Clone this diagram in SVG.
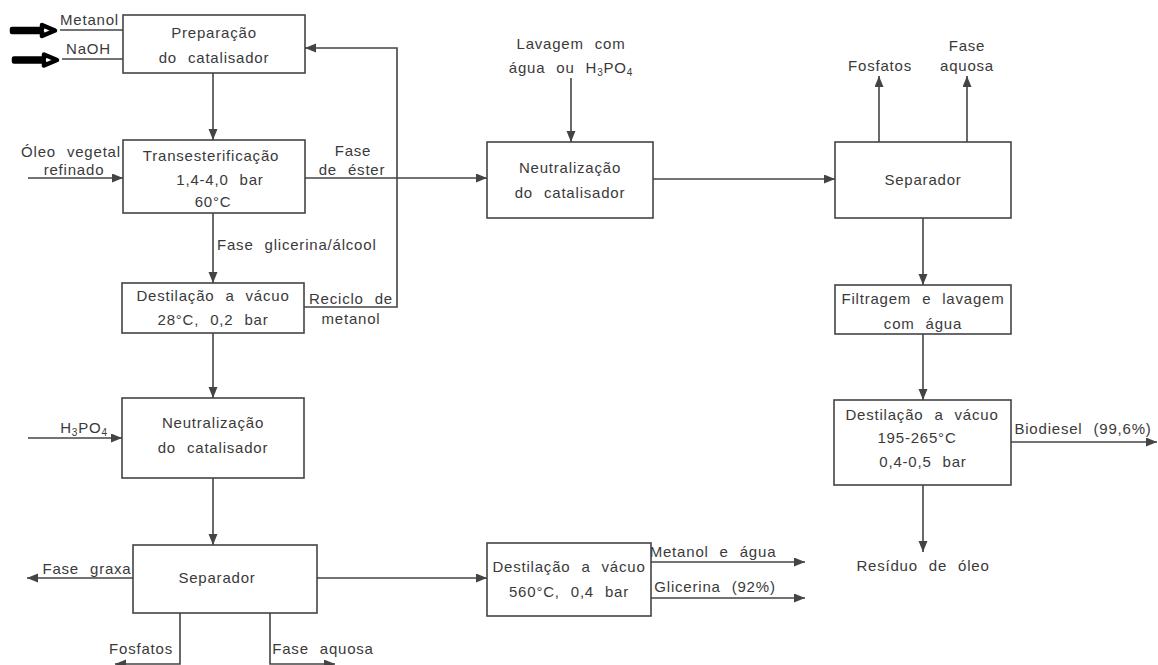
<svg xmlns="http://www.w3.org/2000/svg" width="1158" height="665" viewBox="0 0 1158 665">
<defs>
<marker id="ah" markerUnits="userSpaceOnUse" markerWidth="12" markerHeight="10" refX="11" refY="4.5" orient="auto">
<path d="M0,0 L11,4.5 L0,9 z" fill="#444"/>
</marker>
<style>
.box{fill:#fff;stroke:#444;stroke-width:1.6}
.ln{fill:none;stroke:#444;stroke-width:1.6}
.ar{fill:none;stroke:#444;stroke-width:1.6;marker-end:url(#ah)}
text{font-family:"Liberation Sans",Arial,sans-serif;font-size:15px;fill:#3a3a3a;letter-spacing:0.8px;word-spacing:6px}
.c{text-anchor:middle}
.big{fill:#fff;stroke:#000;stroke-width:4.5;stroke-linejoin:round}
</style>
</defs>
<rect width="1158" height="665" fill="#fff"/>

<g id="connectors">
<path class="big" d="M12,29 L42,29 L42,25 L55,30.5 L42,36 L42,32 L12,32 z"/>
<path class="big" d="M14,58.5 L44,58.5 L44,54.5 L57,60 L44,65.5 L44,61.5 L14,61.5 z"/>
<line class="ln" x1="60" y1="30" x2="123" y2="30"/>
<line class="ln" x1="62" y1="59" x2="123" y2="59"/>
<line class="ar" x1="213" y1="73" x2="213" y2="140"/>
<line class="ar" x1="28" y1="178" x2="123" y2="178"/>
<line class="ar" x1="305" y1="178" x2="487" y2="178"/>
<polyline class="ar" points="304,307 397,307 397,48 305,48"/>
<line class="ar" x1="213" y1="213" x2="213" y2="283"/>
<line class="ar" x1="213" y1="333" x2="213" y2="398"/>
<line class="ar" x1="28" y1="438" x2="122" y2="438"/>
<line class="ar" x1="213" y1="478" x2="213" y2="545"/>
<line class="ar" x1="133" y1="578" x2="27" y2="578"/>
<line class="ar" x1="317" y1="578" x2="487" y2="578"/>
<polyline class="ar" points="180,613 180,664 115,664"/>
<polyline class="ar" points="270,613 270,664 335,664"/>
<line class="ar" x1="651" y1="562" x2="805" y2="562"/>
<line class="ar" x1="651" y1="598" x2="805" y2="598"/>
<line class="ar" x1="571" y1="78" x2="571" y2="142"/>
<line class="ar" x1="653" y1="179" x2="835" y2="179"/>
<line class="ar" x1="879" y1="142" x2="879" y2="76"/>
<line class="ar" x1="967" y1="142" x2="967" y2="76"/>
<line class="ar" x1="923" y1="218" x2="923" y2="285"/>
<line class="ar" x1="923" y1="334" x2="923" y2="400"/>
<line class="ar" x1="1011" y1="442" x2="1157" y2="442"/>
<line class="ar" x1="923" y1="485" x2="923" y2="552"/>
</g>

<g id="labels">
<text x="60" y="25">Metanol</text>
<text x="66" y="54">NaOH</text>
<text x="71" y="157" class="c">Óleo vegetal</text>
<text x="74" y="175" class="c">refinado</text>
<text x="353" y="156" class="c">Fase</text>
<text x="352" y="175" class="c">de éster</text>
<text x="217" y="250">Fase glicerina/álcool</text>
<text x="351" y="304" class="c">Reciclo de</text>
<text x="351" y="324" class="c">metanol</text>
<text x="84" y="433" class="c">H<tspan font-size="10" dy="3">3</tspan><tspan dy="-3">PO</tspan><tspan font-size="10" dy="3">4</tspan></text>
<text x="87" y="574" class="c">Fase graxa</text>
<text x="141" y="654" class="c">Fosfatos</text>
<text x="323" y="654" class="c">Fase aquosa</text>
<text x="713" y="557" class="c">Metanol e água</text>
<text x="715" y="592" class="c">Glicerina (92%)</text>
<text x="571" y="49" class="c">Lavagem com</text>
<text x="571" y="73" class="c">água ou H<tspan font-size="10" dy="3">3</tspan><tspan dy="-3">PO</tspan><tspan font-size="10" dy="3">4</tspan></text>
<text x="880" y="71" class="c">Fosfatos</text>
<text x="967" y="51" class="c">Fase</text>
<text x="967" y="71" class="c">aquosa</text>
<text x="1083" y="434" class="c">Biodiesel (99,6%)</text>
<text x="923" y="571" class="c">Resíduo de óleo</text>
</g>

<g id="prep">
<rect class="box" x="123" y="15" width="182" height="58"/>
<text x="214" y="38" class="c">Preparação</text>
<text x="214" y="63" class="c">do catalisador</text>
</g>
<g id="trans">
<rect class="box" x="123" y="140" width="182" height="73"/>
<text x="211" y="161" class="c">Transesterificação</text>
<text x="220" y="185" class="c">1,4-4,0 bar</text>
<text x="213" y="207" class="c">60°C</text>
</g>
<g id="dest1">
<rect class="box" x="122" y="283" width="182" height="50"/>
<text x="213" y="301" class="c">Destilação a vácuo</text>
<text x="213" y="325" class="c">28°C, 0,2 bar</text>
</g>
<g id="neut2">
<rect class="box" x="122" y="398" width="182" height="80"/>
<text x="213" y="428" class="c">Neutralização</text>
<text x="213" y="453" class="c">do catalisador</text>
</g>
<g id="sep1">
<rect class="box" x="133" y="545" width="184" height="68"/>
<text x="217" y="583" class="c">Separador</text>
</g>
<g id="dest2">
<rect class="box" x="487" y="543" width="164" height="73"/>
<text x="569" y="572" class="c">Destilação a vácuo</text>
<text x="569" y="597" class="c">560°C, 0,4 bar</text>
</g>
<g id="neut1">
<rect class="box" x="487" y="142" width="166" height="76"/>
<text x="570" y="173" class="c">Neutralização</text>
<text x="570" y="198" class="c">do catalisador</text>
</g>
<g id="sep2">
<rect class="box" x="835" y="142" width="176" height="76"/>
<text x="923" y="185" class="c">Separador</text>
</g>
<g id="filt">
<rect class="box" x="835" y="285" width="176" height="49"/>
<text x="923" y="304" class="c">Filtragem e lavagem</text>
<text x="923" y="329" class="c">com água</text>
</g>
<g id="dest3">
<rect class="box" x="834" y="400" width="177" height="85"/>
<text x="922" y="420" class="c">Destilação a vácuo</text>
<text x="917" y="443" class="c">195-265°C</text>
<text x="923" y="467" class="c">0,4-0,5 bar</text>
</g>
</svg>
